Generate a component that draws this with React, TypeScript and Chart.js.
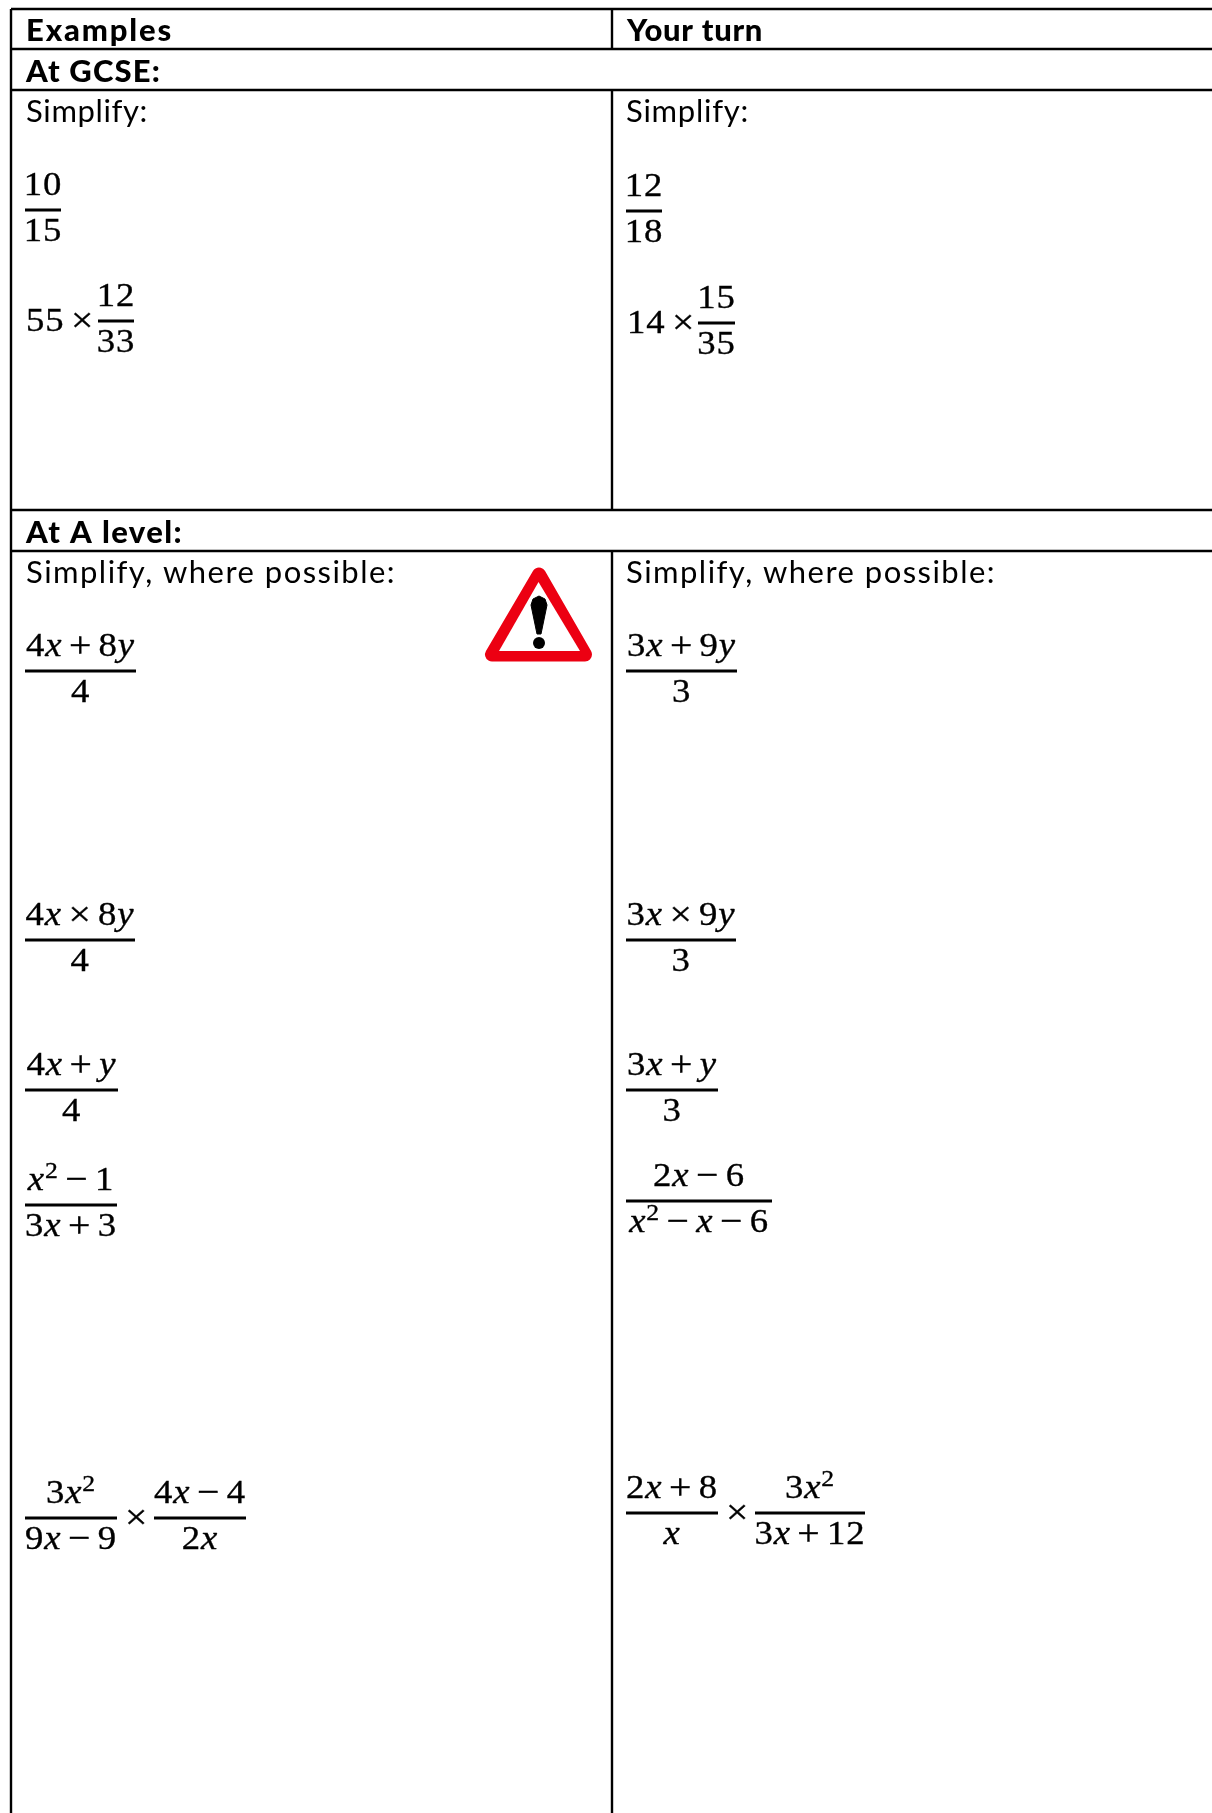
import React, { useEffect, useRef } from "react";
import { Chart, registerables } from "chart.js";

Chart.register(...registerables);

// ---- page space: the worksheet is plotted on linear scales, one unit per page pixel ----
const PAGE_W = 1212;
const PAGE_H = 1813;

// ---- table rules: [x1, y1, x2, y2] ----
const tableRules = [
  [11, 9, 1212, 9],
  [11, 49, 1212, 49],
  [11, 90, 1212, 90],
  [11, 510, 1212, 510],
  [11, 551, 1212, 551],
  [11, 9, 11, 1813],
  [612, 9, 612, 49],
  [612, 90, 612, 510],
  [612, 551, 612, 1813],
];

// ---- text: w is the width the line takes up on the page ----
const headings = [
  { t: "Examples", x: 26, y: 41, w: 147 },
  { t: "Your turn", x: 627, y: 41, w: 136 },
  { t: "At GCSE:", x: 26, y: 82, w: 135 },
  { t: "At A level:", x: 26, y: 543, w: 157 },
];
const prompts = [
  { t: "Simplify:", x: 26, y: 122, w: 122 },
  { t: "Simplify:", x: 626, y: 122, w: 123 },
  { t: "Simplify, where possible:", x: 26, y: 583, w: 370 },
  { t: "Simplify, where possible:", x: 626, y: 583, w: 370 },
];

// ---- maths: fractions are [numerator, denominator, bar start, bar end, bar y] ----
const fractions: [string, string, number, number, number][] = [
  ["10", "15", 25, 61, 210],
  ["12", "33", 98, 134, 321],
  ["12", "18", 626, 662, 211],
  ["15", "35", 698, 735, 323],
  ["4x + 8y", "4", 25, 136, 671],
  ["3x + 9y", "3", 626, 737, 671],
  ["4x × 8y", "4", 25, 135, 940],
  ["3x × 9y", "3", 626, 736, 940],
  ["4x + y", "4", 25, 118, 1090],
  ["3x + y", "3", 626, 718, 1090],
  ["x² − 1", "3x + 3", 25, 117, 1205],
  ["2x − 6", "x² − x − 6", 626, 772, 1201],
  ["3x²", "9x − 9", 25, 117, 1518],
  ["4x − 4", "2x", 154, 246, 1518],
  ["2x + 8", "x", 626, 718, 1513],
  ["3x²", "3x + 12", 755, 865, 1513],
];
const inlineMaths = [
  { t: "55 ×", x: 26, y: 331 },
  { t: "14 ×", x: 627, y: 333 },
  { t: "×", x: 125, y: 1528 },
  { t: "×", x: 726, y: 1523 },
];

// ---- warning sign outlines ----
const signOuter = [
  { x: 539, y: 574.5 },
  { x: 492, y: 654.5 },
  { x: 585, y: 654.5 },
];
const signInner = [
  { x: 538.5, y: 582 },
  { x: 499, y: 651 },
  { x: 580, y: 651 },
];
const signBang = [
  { x: 531, y: 605 },
  { x: 533, y: 599 },
  { x: 539, y: 596 },
  { x: 545, y: 599 },
  { x: 547, y: 605 },
  { x: 541, y: 634 },
  { x: 537, y: 634 },
];
const signDot = [{ x: 539, y: 643 }];

const MATH_SIZE = 34;
const MATH_SPACING = 0.8;
const MATH_STRETCH = 1.08;
const OP_SCALE = 1.08;
const OP_GAP = 6.5;

type Run = { s: string; font: string; rise: number; after: number };

function tokenize(text: string): Run[] {
  const upright = `${MATH_SIZE}px "Liberation Serif"`;
  const italic = `italic ${MATH_SIZE}px "Liberation Serif"`;
  const sup = `${MATH_SIZE * 0.7}px "Liberation Serif"`;
  const op = `${MATH_SIZE * OP_SCALE}px "Liberation Serif"`;
  const runs: Run[] = [];
  for (const ch of text) {
    if (ch === " ") {
      if (runs.length) runs[runs.length - 1].after += OP_GAP;
    } else if (ch === "x" || ch === "y") {
      runs.push({ s: ch, font: italic, rise: 0, after: 0 });
    } else if (ch === "²") {
      runs.push({ s: "2", font: sup, rise: 12, after: 0 });
    } else if (ch === "+" || ch === "−" || ch === "×") {
      runs.push({ s: ch, font: op, rise: -1, after: 0 });
    } else {
      runs.push({ s: ch, font: upright, rise: 0, after: 0 });
    }
  }
  return runs;
}

function runsWidth(ctx: CanvasRenderingContext2D, runs: Run[]) {
  let w = 0;
  for (const r of runs) {
    ctx.font = r.font;
    w += ctx.measureText(r.s).width * MATH_STRETCH + r.after;
  }
  return w;
}

function drawRuns(ctx: CanvasRenderingContext2D, runs: Run[], x: number, y: number) {
  let cx = x;
  for (const r of runs) {
    ctx.font = r.font;
    ctx.save();
    ctx.translate(cx, y - r.rise);
    ctx.scale(MATH_STRETCH, 1);
    ctx.fillText(r.s, 0, 0);
    ctx.strokeText(r.s, 0, 0);
    ctx.restore();
    cx += ctx.measureText(r.s).width * MATH_STRETCH + r.after;
  }
}

function fitText(ctx: CanvasRenderingContext2D, t: string, x: number, y: number, w: number) {
  (ctx as any).letterSpacing = "0px";
  const natural = ctx.measureText(t).width;
  (ctx as any).letterSpacing = `${(w - natural) / t.length}px`;
  ctx.fillText(t, x, y);
}

const worksheetText = {
  id: "worksheetText",
  afterDatasetsDraw(chart: any) {
    const { ctx, scales } = chart;
    const X = (v: number) => scales.x.getPixelForValue(v);
    const Y = (v: number) => scales.y.getPixelForValue(v);
    ctx.save();
    ctx.fillStyle = "#000";
    ctx.strokeStyle = "#000";
    ctx.lineWidth = 0.35;
    ctx.textBaseline = "alphabetic";
    ctx.textAlign = "left";

    ctx.font = `900 31px Lato, "Liberation Sans"`;
    headings.forEach((h) => fitText(ctx, h.t, X(h.x), Y(h.y), h.w));

    ctx.font = `400 31px Lato, "Liberation Sans"`;
    prompts.forEach((p) => fitText(ctx, p.t, X(p.x), Y(p.y), p.w));

    (ctx as any).letterSpacing = `${MATH_SPACING}px`;
    fractions.forEach(([num, den, x1, x2, y]) => {
      const n = tokenize(num);
      const d = tokenize(den);
      const mid = (X(x1) + X(x2)) / 2;
      drawRuns(ctx, n, mid - runsWidth(ctx, n) / 2, Y(y - 15));
      drawRuns(ctx, d, mid - runsWidth(ctx, d) / 2, Y(y + 31));
    });
    inlineMaths.forEach((m) => drawRuns(ctx, tokenize(m.t), X(m.x), Y(m.y)));
    ctx.restore();
  },
};

export default function App() {
  const ref = useRef<HTMLCanvasElement>(null);
  useEffect(() => {
    const line = (pts: { x: number; y: number }[], width: number) => ({
      type: "line" as const,
      data: pts,
      borderColor: "#000",
      borderWidth: width,
      pointRadius: 0,
      fill: false,
      tension: 0,
      order: 5,
    });
    const datasets: any[] = [
      ...tableRules.map(([a, b, c, d]) =>
        line(
          [
            { x: a, y: b },
            { x: c, y: d },
          ],
          2.4,
        ),
      ),
      ...fractions.map(([, , x1, x2, y]) =>
        line(
          [
            { x: x1, y },
            { x: x2, y },
          ],
          3,
        ),
      ),
      {
        type: "line",
        data: signDot,
        showLine: false,
        pointRadius: 6,
        pointBackgroundColor: "#000",
        pointBorderWidth: 0,
        order: 0,
      },
      {
        type: "line",
        data: [...signBang, signBang[0]],
        borderColor: "#000",
        backgroundColor: "#000",
        borderWidth: 1,
        borderJoinStyle: "round",
        pointRadius: 0,
        fill: "shape",
        order: 1,
      },
      {
        type: "line",
        data: [...signInner, signInner[0]],
        borderColor: "#fff",
        backgroundColor: "#fff",
        borderWidth: 0,
        pointRadius: 0,
        fill: "shape",
        order: 2,
      },
      {
        type: "line",
        data: [...signOuter, signOuter[0], signOuter[1]],
        borderColor: "#ec0012",
        backgroundColor: "#ec0012",
        borderWidth: 14,
        borderJoinStyle: "round",
        pointRadius: 0,
        fill: "shape",
        order: 3,
      },
    ];
    const chart = new Chart(ref.current!, {
      type: "line",
      data: { datasets },
      plugins: [worksheetText],
      options: {
        animation: false,
        responsive: false,
        layout: { padding: 0, autoPadding: false },
        parsing: false,
        plugins: { legend: { display: false }, tooltip: { enabled: false }, title: { display: false } },
        scales: {
          x: { type: "linear", min: 0, max: PAGE_W, display: false },
          y: { type: "linear", min: 0, max: PAGE_H, reverse: true, display: false },
        },
      },
    } as any);
    return () => chart.destroy();
  }, []);
  return (
    <div style={{ position: "absolute", left: 0, top: 0, width: PAGE_W, height: PAGE_H, background: "#fff", overflow: "hidden" }}>
      <canvas ref={ref} width={PAGE_W} height={PAGE_H} style={{ display: "block" }} />
    </div>
  );
}
